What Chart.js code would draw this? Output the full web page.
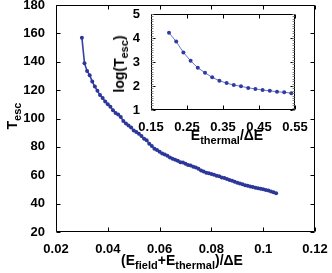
<!DOCTYPE html>
<html><head><meta charset="utf-8">
<script src="https://cdn.jsdelivr.net/npm/chart.js@4/dist/chart.umd.min.js"></script>
<style>
html,body{margin:0;padding:0;background:#fff;}
#wrap{position:relative;width:332px;height:273px;overflow:hidden;font-family:"Liberation Sans",Arial,sans-serif;font-weight:bold;color:#000;}
#main{position:absolute;left:0;top:0;}
#inset{position:absolute;left:100px;top:0;}
.lbl{position:absolute;white-space:nowrap;font-size:14px;line-height:14px;transform:translate(-50%,-50%);}
.rot{transform:translate(-50%,-50%) rotate(-90deg);}
.lbl sub{font-size:11px;vertical-align:-4px;line-height:0;}
</style></head>
<body>
<div id="wrap">
<canvas id="main" width="332" height="273"></canvas>
<canvas id="inset" width="215" height="145"></canvas>
<div class="lbl" style="left:182px;top:260px;">(E<sub>field</sub>+E<sub>thermal</sub>)/ΔE</div>
<div class="lbl rot" style="left:12px;top:116px;">T<sub>esc</sub></div>
<div class="lbl" style="left:227px;top:135px;">E<sub>thermal</sub>/ΔE</div>
<div class="lbl rot" style="left:119px;top:64px;">log(T<sub>esc</sub>)</div>
</div>
<script>
const mainX = [0.030,0.031,0.032,0.033,0.034,0.035,0.036,0.037,0.038,0.039,
  0.040,0.041,0.042,0.043,0.044,0.045,0.046,0.047,0.048,0.049,
  0.050,0.051,0.052,0.053,0.054,0.055,0.056,0.057,0.058,0.059,
  0.060,0.061,0.062,0.063,0.064,0.065,0.066,0.067,0.068,0.069,
  0.070,0.071,0.072,0.073,0.074,0.075,0.076,0.077,0.078,0.079,
  0.080,0.081,0.082,0.083,0.084,0.085,0.086,0.087,0.088,0.089,
  0.090,0.091,0.092,0.093,0.094,0.095,0.096,0.097,0.098,0.099,
  0.100,0.101,0.102,0.103,0.104,0.105];
const mainY = [157,139,133.5,130.5,126,122.5,119.5,116.5,114.5,112,
  110,108.3,105.8,103.8,102.8,101,98.2,96.4,95,93.6,
  91.6,90.5,89.2,87.6,85.8,84.6,82.2,80.6,78.6,77.8,
  76.6,75.4,74.6,73.8,72.5,71.6,70.9,70.2,69.2,68.9,
  68.1,67.2,66.8,66.0,65.4,64.6,63.3,62.6,61.8,61.4,
  60.8,60.3,59.6,59.3,58.5,58.1,57.3,56.6,56.1,55.4,
  54.7,54.1,53.7,53.0,52.6,52.0,51.7,51.2,50.9,50.4,
  50.1,49.6,49.2,48.5,48.1,47.4];
const insetX = [0.20,0.22,0.24,0.26,0.28,0.30,0.32,0.34,0.36,0.38,0.40,0.42,0.44,0.46,0.48,0.50,0.52,0.54];
const insetY = [4.22,3.85,3.40,3.05,2.76,2.55,2.36,2.22,2.12,2.04,1.99,1.92,1.88,1.83,1.80,1.76,1.74,1.70];
const mainXTicks = [0.02,0.04,0.06,0.08,0.10,0.12];
const mainXLabels = ['0.02','0.04','0.06','0.08','0.1','0.12'];
const mainYTicks = [20,40,60,80,100,120,140,160,180];
const mainYLabels = ['20','40','60','80','100','120','140','160','180'];
const insetXTicks = [0.15,0.25,0.35,0.45,0.55];
const insetXLabels = ['0.15','0.25','0.35','0.45','0.55'];
const insetYTicks = [1,2,3,4,5];
const insetYLabels = ['1','2','3','4','5'];

const FONT = {family:'"Liberation Sans", Arial, sans-serif', size:13, weight:'bold'};

function boxTicks(minorStep){
  return {
    id:'boxTicks',
    beforeDatasetsDraw(chart){
      const {ctx, chartArea:a} = chart;
      ctx.save(); ctx.fillStyle='#fff';
      ctx.fillRect(a.left,a.top,a.right-a.left,a.bottom-a.top);
      ctx.restore();
    },
    afterDraw(chart){
      const {ctx, chartArea:a, scales:{x,y}} = chart;
      const L=Math.round(a.left)+0.5, R=Math.round(a.right)-0.5, T=Math.round(a.top)+0.5, B=Math.round(a.bottom)-0.5;
      ctx.save();
      ctx.strokeStyle='#000'; ctx.lineWidth=1;
      ctx.beginPath();
      ctx.rect(L,T,R-L,B-T);
      const tl=4;
      x.ticks.forEach(t=>{
        const px=Math.round(x.getPixelForValue(t.value))+0.5;
        ctx.moveTo(px,B); ctx.lineTo(px,B-tl);
        ctx.moveTo(px,T); ctx.lineTo(px,T+tl);
      });
      y.ticks.forEach(t=>{
        const py=Math.round(y.getPixelForValue(t.value))+0.5;
        ctx.moveTo(L,py); ctx.lineTo(L+tl,py);
        ctx.moveTo(R,py); ctx.lineTo(R-tl,py);
      });
      ctx.stroke();
      if(minorStep){
        ctx.beginPath(); ctx.strokeStyle='#888';
        for(let v=y.min; v<=y.max+1e-9; v+=minorStep){
          const py=Math.round(y.getPixelForValue(v))+0.5;
          ctx.moveTo(L,py); ctx.lineTo(L+2,py);
          ctx.moveTo(R,py); ctx.lineTo(R-2,py);
        }
        ctx.stroke();
      }
      ctx.restore();
    }
  };
}

function axes(xT,xL,yT,yL,xmin,xmax,ymin,ymax,yW,xH){
  return {
    x:{type:'linear',min:xmin,max:xmax,
      afterBuildTicks:s=>{s.ticks=xT.map(v=>({value:v}));},
      afterFit:s=>{s.height=xH;s.paddingLeft=0;s.paddingRight=0;},
      grid:{display:false}, border:{display:false},
      ticks:{font:FONT,color:'#000',padding:2,maxRotation:0,autoSkip:false,
        callback:(v,i)=>xL[i]}},
    y:{type:'linear',min:ymin,max:ymax,
      afterBuildTicks:s=>{s.ticks=yT.map(v=>({value:v}));},
      afterFit:s=>{s.width=yW;s.paddingTop=0;s.paddingBottom=0;},
      grid:{display:false}, border:{display:false},
      ticks:{font:FONT,color:'#000',padding:3,autoSkip:false,
        callback:(v,i)=>yL[i]}}
  };
}

new Chart(document.getElementById('main'),{
  type:'scatter',
  data:{datasets:[{data:mainX.map((v,i)=>({x:v,y:mainY[i]})),showLine:true,
    borderColor:'#3440a4',borderWidth:1.6,pointRadius:2,pointBorderWidth:0,
    pointBackgroundColor:'#2b3799'}]},
  options:{responsive:false,animation:false,devicePixelRatio:1,
    layout:{padding:{left:0,right:17,top:5,bottom:0}},
    plugins:{legend:{display:false},tooltip:{enabled:false}},
    scales:axes(mainXTicks,mainXLabels,mainYTicks,mainYLabels,0.02,0.12,20,180,56,41)},
  plugins:[boxTicks(0)]
});

new Chart(document.getElementById('inset'),{
  type:'scatter',
  data:{datasets:[{data:insetX.map((v,i)=>({x:v,y:insetY[i]})),showLine:true,
    borderColor:'#6a78c8',borderWidth:1,pointRadius:2,pointBorderWidth:0,
    pointBackgroundColor:'#2f3ba0'}]},
  options:{responsive:false,animation:false,devicePixelRatio:1,
    layout:{padding:{left:0,right:20,top:14,bottom:0}},
    plugins:{legend:{display:false},tooltip:{enabled:false}},
    scales:axes(insetXTicks,insetXLabels,insetYTicks,insetYLabels,0.15,0.55,1,5,51,35)},
  plugins:[boxTicks(0.1)]
});
</script>
</body></html>
